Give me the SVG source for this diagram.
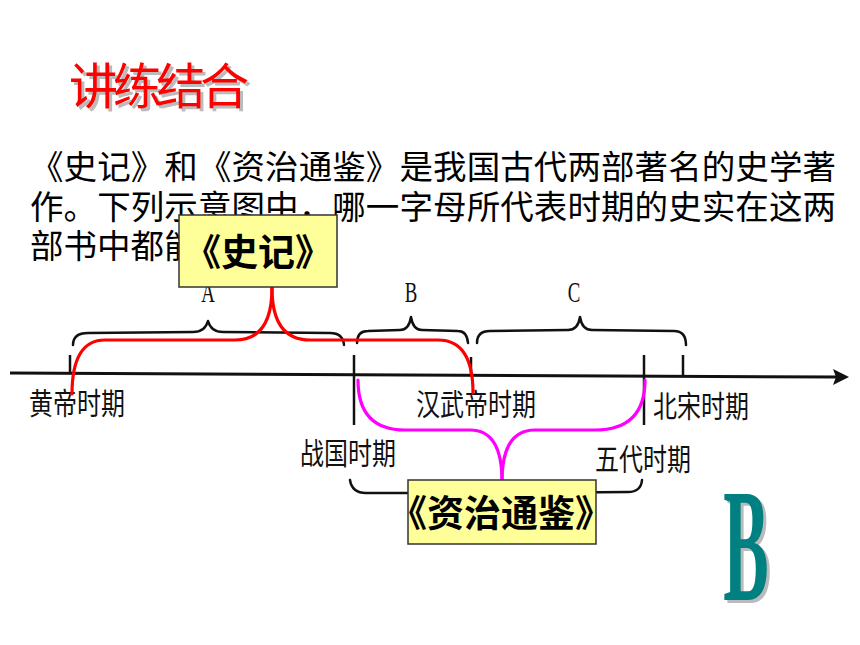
<svg xmlns="http://www.w3.org/2000/svg" width="860" height="645" viewBox="0 0 860 645">
<style>
.cjk{font-family:"Noto Sans CJK SC","Noto Sans",sans-serif}
.body{font-size:33.5px;fill:#000}
.lbl{font-size:24px;fill:#111;font-weight:normal}
.ltr{font-family:"Liberation Serif",serif;font-size:29px;fill:#111}
.brace{fill:none;stroke:#111;stroke-width:2.5;stroke-linecap:round;stroke-linejoin:round}
.tick{stroke:#111;stroke-width:2.5}
.box{fill:#FFFF99;stroke:#333;stroke-width:1.5}
.boxt{font-size:37px;font-weight:bold;fill:#000;text-anchor:middle}
.red{fill:none;stroke:#FF0000;stroke-width:3.2;stroke-linecap:round}
.mag{fill:none;stroke:#FF00FF;stroke-width:3.2;stroke-linecap:round}
</style>
<rect width="860" height="645" fill="#fff"/>
<g id="title">
<text class="cjk" x="72" y="107" font-size="49" fill="#BBBBBB" textLength="180">讲练结合</text>
<text class="cjk" x="69" y="104" font-size="49" fill="#FF0000" textLength="180">讲练结合</text>
</g>
<g id="question" class="cjk body">
<text x="30" y="179" textLength="806">《史记》和《资治通鉴》是我国古代两部著名的史学著</text>
<text x="30" y="219" textLength="806">作。下列示意图中，哪一字母所代表时期的史实在这两</text>
<text x="30" y="258">部书中都能</text>
</g>
<g id="timeline">
<line x1="10" y1="373" x2="838" y2="377" stroke="#111" stroke-width="3"/>
<polygon points="849,377 833,369 836,377 833,385" fill="#111"/>
<line class="tick" x1="70" y1="355" x2="70" y2="373"/>
<line class="tick" x1="354" y1="355" x2="354" y2="425"/>
<line class="tick" x1="471" y1="357" x2="471" y2="376"/>
<line class="tick" x1="644" y1="355" x2="644" y2="425"/>
<line class="tick" x1="683" y1="355" x2="683" y2="376"/>
</g>
<g id="braces">
<path class="brace" d="M73,345 Q73,333 88,333 L193,332 Q205,332 208,321 Q211,332 223,332 L330,333 Q343,333 344,345"/>
<path class="brace" d="M357,343 Q357,331 368,331 L400,330 Q409,330 411,317 Q413,330 422,330 L458,331 Q467,331 468,343"/>
<path class="brace" d="M477,343 Q477,331 490,331 L568,330 Q578,330 580,317 Q582,330 592,330 L674,331 Q686,331 686,345"/>
<path class="brace" d="M350,480 Q352,493 366,493 L488,493 Q498,493 500,505 Q502,493 512,493 L628,492 Q641,492 642,480"/>
</g>
<g id="letters">
<text class="ltr" text-anchor="middle" transform="translate(208,302) scale(0.65,1)">A</text>
<text class="ltr" text-anchor="middle" transform="translate(411,302) scale(0.65,1)">B</text>
<text class="ltr" text-anchor="middle" transform="translate(574,302) scale(0.65,1)">C</text>
</g>
<g id="period-labels" class="cjk lbl">
<text transform="translate(29,414) scale(1,1.22)">黄帝时期</text>
<text transform="translate(300,464) scale(1,1.22)">战国时期</text>
<text transform="translate(416,415) scale(1,1.22)">汉武帝时期</text>
<text transform="translate(653,417) scale(1,1.22)">北宋时期</text>
<text transform="translate(595,470) scale(1,1.22)">五代时期</text>
</g>
<g id="connectors">
<path class="red" d="M272,288 Q272,340 235,340 L105,340 Q72,340 72,394"/>
<path class="red" d="M272,288 Q272,340 310,340 L438,340 Q473,340 473,393"/>
<path class="mag" d="M358,380 Q358,430 405,430 L470,430 Q502,430 502,481"/>
<path class="mag" d="M645,380 Q645,430 595,430 L535,430 Q502,430 502,481"/>
</g>
<g id="node-shiji">
<rect class="box" x="179" y="215" width="158" height="72"/>
<text class="cjk boxt" x="258" y="266">《史记》</text>
</g>
<g id="node-zizhitongjian">
<rect class="box" x="408" y="480" width="188" height="64"/>
<text class="cjk boxt" x="501" y="527">《资治通鉴》</text>
</g>
<g id="answer">
<text font-family="Liberation Serif,serif" font-weight="bold" font-size="162" fill="#BBBBBB" text-anchor="middle" transform="translate(749,603) scale(0.42,1)">B</text>
<text font-family="Liberation Serif,serif" font-weight="bold" font-size="162" fill="#008080" text-anchor="middle" transform="translate(746,600) scale(0.42,1)">B</text>
</g>
</svg>
